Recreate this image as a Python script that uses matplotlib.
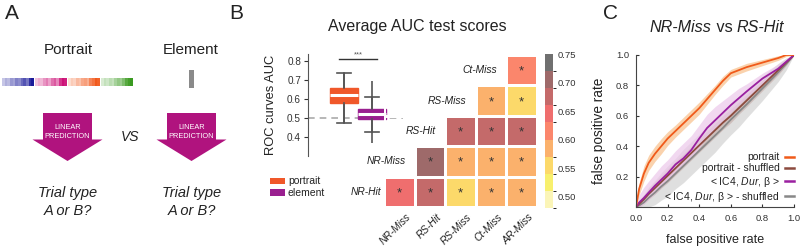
import numpy as np
import matplotlib
matplotlib.use("Agg")
import matplotlib.pyplot as plt
from matplotlib.colors import ListedColormap, BoundaryNorm, to_rgb
from matplotlib.patches import Rectangle, Polygon

plt.rcParams['font.family'] = ['Liberation Sans', 'DejaVu Sans']
plt.rcParams['mathtext.fontset'] = 'custom'
plt.rcParams['mathtext.rm'] = 'Liberation Sans'
plt.rcParams['mathtext.it'] = 'Liberation Sans:italic'

# ---------------- data ----------------
# Panel A stripe intensities (feature groups)
stripe_blue = [0.25, 0.35, 0.3, 0.45, 0.4, 0.55, 0.5, 0.65, 0.75, 0.6, 0.9, 1.0]
stripe_pink = [0.25, 0.35, 0.3, 0.45, 0.55, 0.4, 0.6, 0.7, 0.5, 0.85, 1.0, 0.95]
stripe_orange = [0.2, 0.3, 0.25, 0.4, 0.35, 0.5, 0.55, 0.45, 0.7, 0.8, 0.95, 0.9]
stripe_green = [0.2, 0.3, 0.25, 0.35, 0.3, 0.45, 0.55, 0.5, 0.65, 0.85, 0.95, 1.0]

# Panel B boxplot
box_names = ['portrait', 'element']
box_q1 = [0.58, 0.495]
box_med = [0.62, 0.518]
box_q3 = [0.656, 0.546]
box_whislo = [0.472, 0.428]
box_whishi = [0.735, 0.612]
box_min = [0.472, 0.37]
box_max = [0.735, 0.696]

# Panel B heatmap
row_labels = ['NR-Hit', 'NR-Miss', 'RS-Hit', 'RS-Miss', 'Ct-Miss']
col_labels = ['NR-Miss', 'RS-Hit', 'RS-Miss', 'Ct-Miss', 'AR-Miss']
nan = np.nan
auc_NR_Hit = [0.645, 0.675, 0.555, 0.585, 0.585]
auc_NR_Miss = [nan, 0.705, 0.585, 0.585, 0.585]
auc_RS_Hit = [nan, nan, 0.675, 0.675, 0.675]
auc_RS_Miss = [nan, nan, nan, 0.585, 0.555]
auc_Ct_Miss = [nan, nan, nan, nan, 0.615]
cbar_ticks = [0.50, 0.55, 0.60, 0.65, 0.70, 0.75]

# Panel C ROC curves
fpr = [0, 0.02, 0.05, 0.08, 0.12, 0.16, 0.2, 0.25, 0.3, 0.35, 0.4, 0.45, 0.5,
       0.55, 0.6, 0.65, 0.7, 0.8, 0.9, 0.95, 1.0]
tpr_portrait = [0, 0.12, 0.22, 0.29, 0.35, 0.40, 0.45, 0.50, 0.55, 0.60, 0.65,
                0.71, 0.77, 0.83, 0.88, 0.90, 0.92, 0.95, 0.98, 1.0, 1.0]
sd_portrait = [0, 0.04, 0.05, 0.05, 0.05, 0.05, 0.045, 0.04, 0.04, 0.04, 0.04,
               0.035, 0.03, 0.03, 0.025, 0.025, 0.025, 0.02, 0.015, 0.01, 0]
tpr_portrait_sh = [0, 0.02, 0.05, 0.085, 0.125, 0.165, 0.205, 0.255, 0.305,
                   0.355, 0.405, 0.455, 0.505, 0.555, 0.6, 0.65, 0.7, 0.8, 0.9,
                   0.95, 1.0]
sd_portrait_sh = [0, 0.02, 0.03, 0.035, 0.04, 0.04, 0.045, 0.045, 0.045, 0.045,
                  0.045, 0.045, 0.045, 0.045, 0.045, 0.04, 0.04, 0.035, 0.03,
                  0.02, 0]
tpr_element = [0, 0.03, 0.06, 0.095, 0.14, 0.18, 0.22, 0.28, 0.32, 0.375, 0.45,
               0.52, 0.57, 0.62, 0.67, 0.715, 0.76, 0.845, 0.91, 0.955, 1.0]
band_lo_element = [0, 0.0, 0.02, 0.05, 0.09, 0.13, 0.17, 0.22, 0.27, 0.32, 0.39,
                   0.46, 0.52, 0.57, 0.62, 0.67, 0.72, 0.81, 0.88, 0.94, 1.0]
band_hi_element = [0, 0.08, 0.13, 0.17, 0.22, 0.27, 0.31, 0.37, 0.42, 0.47,
                   0.54, 0.61, 0.66, 0.70, 0.74, 0.78, 0.81, 0.88, 0.94, 0.975, 1.0]
tpr_element_sh = [0, 0.01, 0.03, 0.06, 0.095, 0.135, 0.17, 0.22, 0.27, 0.32,
                  0.37, 0.42, 0.47, 0.52, 0.575, 0.625, 0.675, 0.78, 0.885,
                  0.94, 1.0]
sd_element_sh = [0, 0.03, 0.05, 0.07, 0.08, 0.09, 0.1, 0.1, 0.11, 0.11, 0.11,
                 0.11, 0.11, 0.1, 0.1, 0.1, 0.09, 0.08, 0.06, 0.04, 0]

# ---------------- figure ----------------
W, H = 800, 249
fig = plt.figure(figsize=(8, 2.49), dpi=100)
fig.patch.set_facecolor('white')


def px_axes(x0, y0, x1, y1, **kw):
    return fig.add_axes([x0 / W, 1 - y1 / H, (x1 - x0) / W, (y1 - y0) / H], **kw)


TXT = '#222222'
TICK = 6.8

# overlay for panel A & misc
ov = fig.add_axes([0, 0, 1, 1])
ov.set_xlim(0, W)
ov.set_ylim(H, 0)
ov.axis('off')

for lab, x in [('A', 12), ('B', 236), ('C', 611)]:
    ov.text(x, 13, lab, fontsize=15, ha='center', va='center', color=TXT)

# Panel A
ov.text(68, 50, 'Portrait', fontsize=11, ha='center', va='center', color=TXT)
ov.text(191, 50, 'Element', fontsize=11, ha='center', va='center', color=TXT)


def blend(c, t):
    c = np.array(to_rgb(c))
    return tuple(1 - t * (1 - c))


groups = [(2, stripe_blue, '#1a1a99'), (35, stripe_pink, '#cc1177'),
          (68, stripe_orange, '#f05010'), (101, stripe_green, '#3a9a20')]
for x0, vals, base in groups:
    sw = 32 / len(vals)
    for i, v in enumerate(vals):
        ov.add_patch(Rectangle((x0 + i * sw, 78), sw, 8, color=blend(base, v), lw=0))
ov.add_patch(Rectangle((189, 70), 5, 18, color='#8a8a8a', lw=0))

arrow_col = '#b0137e'
for cx in [67.5, 191.5]:
    poly = [(cx - 24.5, 113), (cx + 24.5, 113), (cx + 24.5, 139.5), (cx + 35, 139.5),
            (cx, 161), (cx - 35, 139.5), (cx - 24.5, 139.5)]
    ov.add_patch(Polygon(poly, closed=True, color=arrow_col, lw=0))
    ov.text(cx, 127, 'LINEAR', fontsize=5.3, color='white', ha='center', va='center')
    ov.text(cx, 136, 'PREDICTION', fontsize=5.3, color='white', ha='center', va='center')
    ov.text(cx, 193, 'Trial type', fontsize=10.5, style='italic', ha='center',
            va='center', color=TXT)
    ov.text(cx, 211, 'A or B?', fontsize=10.5, style='italic', ha='center',
            va='center', color=TXT)
ov.text(130, 137, 'VS', fontsize=10, style='italic', ha='center', va='center', color=TXT)

# Panel B title
ov.text(417, 26, 'Average AUC test scores', fontsize=11.5, ha='center', va='center', color=TXT)

# Panel B legend
box_cols = ['#f0582a', '#9a2090']
for i, (nm, c) in enumerate(zip(box_names, box_cols)):
    y = 181 + i * 11.5
    ov.add_patch(Rectangle((270, y - 3.3), 15, 6.6, color=c, lw=0))
    ov.text(288, y, nm, fontsize=7.5, ha='left', va='center', color=TXT)

# ---------------- boxplot ----------------
bx = px_axes(308, 54, 403, 156)
bx.patch.set_visible(False)
bx.set_xlim(0, 95)
bx.set_ylim(0.3, 0.835)
positions = [36, 63.5]
stats = []
for i in range(2):
    stats.append(dict(med=box_med[i], q1=box_q1[i], q3=box_q3[i],
                      whislo=box_whislo[i], whishi=box_whishi[i], fliers=[]))
bx.axhline(0.5, color='#aaaaaa', ls=(0, (4, 3)), lw=1.2, zorder=1, clip_on=False)
for i in range(2):
    bx.vlines(positions[i], box_min[i], box_max[i], color='#555555', lw=1.2, zorder=2)
bp = bx.bxp(stats, positions=positions, widths=28, patch_artist=True,
            showfliers=False, manage_ticks=False,
            whiskerprops=dict(color='#555555', lw=1.2),
            capprops=dict(color='#555555', lw=1.2),
            medianprops=dict(color='white', lw=2.2), zorder=3)
for p, c in zip(bp['boxes'], box_cols):
    p.set_facecolor(c)
    p.set_edgecolor(c)
    p.set_zorder(3)
for cap in bp['caps']:
    m = np.mean(cap.get_xdata())
    cap.set_xdata([m - 7, m + 7])
for sp in ['top', 'right', 'bottom']:
    bx.spines[sp].set_visible(False)
bx.spines['left'].set_color('#555555')
bx.set_xticks([])
bx.set_yticks([0.4, 0.5, 0.6, 0.7, 0.8])
bx.tick_params(axis='y', labelsize=7.2, colors='#333333', length=3, pad=2)
bx.set_ylabel('ROC curves AUC', fontsize=9.3, color=TXT, labelpad=7)
bx.plot([31, 69], [0.809, 0.809], color='#333333', lw=1.0, clip_on=False)
bx.text(50, 0.812, '***', fontsize=5.5, ha='center', va='bottom', color='#555555')

# ---------------- heatmap ----------------
hm = px_axes(384, 55, 537, 207)
hm.patch.set_visible(False)
mat = np.ma.masked_invalid(np.array([auc_NR_Hit, auc_NR_Miss, auc_RS_Hit,
                                     auc_RS_Miss, auc_Ct_Miss]))
bin_colors = ['#fbf5b8', '#f8f06e', '#fcd96a', '#fbb16c', '#fb866c',
              '#ef6e6e', '#c46a6a', '#9e6a6a', '#707070']
bounds = np.linspace(0.48, 0.75, 10)
cmap = ListedColormap(bin_colors)
norm = BoundaryNorm(bounds, cmap.N)
mesh = hm.pcolormesh(np.arange(6), np.arange(6), mat, cmap=cmap, norm=norm,
                     edgecolors='white', linewidth=1.0)
hm.set_xlim(0, 5)
hm.set_ylim(0, 5)
hm.axis('off')
for r in range(5):
    for c in range(5):
        if not np.ma.is_masked(mat[r, c]):
            hm.text(c + 0.5, r + 0.45, '*', fontsize=9.5, ha='center', va='center',
                    color='#333333')
    hm.text(r - (0.1 if r == 0 else 0.3), r + 0.5, row_labels[r], fontsize=7.4,
            style='italic', ha='right', va='center', color=TXT)
for c in range(5):
    hm.text(c + 0.7, -0.17, col_labels[c], fontsize=7.4, style='italic',
            rotation=45, rotation_mode='anchor', ha='right', va='top',
            color=TXT, clip_on=False)

cax = px_axes(545, 54, 553, 208)
cb = fig.colorbar(mesh, cax=cax, ticks=cbar_ticks)
cb.outline.set_visible(False)
cb.ax.set_yticklabels(['%.2f' % t for t in cbar_ticks])
cax.tick_params(length=0, labelsize=TICK, colors='#333333', pad=3)

# ---------------- ROC panel ----------------
rc = px_axes(636, 55, 794, 207)
rc.patch.set_visible(False)
fpr_a = np.array(fpr)


def band(t, s):
    t = np.array(t)
    s = np.array(s)
    return np.clip(t - s, 0, 1), np.clip(t + s, 0, 1)


lo_es, hi_es = band(tpr_element_sh, sd_element_sh)
lo_ps, hi_ps = band(tpr_portrait_sh, sd_portrait_sh)
lo_p, hi_p = band(tpr_portrait, sd_portrait)
rc.fill_between(fpr_a, lo_es, hi_es, color='#d8d8d8', alpha=0.8, lw=0)
rc.fill_between(fpr_a, lo_ps, hi_ps, color='#c4aaa5', alpha=0.6, lw=0)
rc.fill_between(fpr_a, band_lo_element, band_hi_element, color='#ecc8ea', alpha=0.7, lw=0)
rc.fill_between(fpr_a, lo_p, hi_p, color='#f8c08a', alpha=0.7, lw=0)

curves = [
    (tpr_element_sh, '#888888', '< IC4, $\\mathit{Dur}$, β > - shuffled'),
    (tpr_portrait_sh, '#8c4a3e', 'portrait - shuffled'),
    (tpr_element, '#9a20a0', '< IC4, $\\mathit{Dur}$, β >'),
    (tpr_portrait, '#f05a1a', 'portrait'),
]
handles = {}
for t, lc, lab in curves:
    h, = rc.plot(fpr_a, t, color=lc, lw=1.3, label=lab)
    handles[lab] = h
rc.set_xlim(0, 1)
rc.set_ylim(0, 1)
for sp in ['top', 'right']:
    rc.spines[sp].set_visible(False)
for sp in ['left', 'bottom']:
    rc.spines[sp].set_color('#444444')
rc.set_xticks([0, 0.2, 0.4, 0.6, 0.8, 1.0])
rc.set_yticks([0.2, 0.4, 0.6, 0.8, 1.0])
rc.tick_params(labelsize=TICK, colors='#333333', direction='in', length=2.5, pad=5)
rc.set_xlabel('false positive rate', fontsize=9, color=TXT, labelpad=8)
rc.set_ylabel('false positive rate', fontsize=9.8, color=TXT, labelpad=7)
order = ['portrait', 'portrait - shuffled', '< IC4, $\\mathit{Dur}$, β >',
         '< IC4, $\\mathit{Dur}$, β > - shuffled']
leg = rc.legend([handles[k] for k in order], order, loc='lower right',
                bbox_to_anchor=(1.0, 0.02), frameon=False, markerfirst=False,
                fontsize=7.5, handlelength=0.9, handletextpad=0.5,
                labelspacing=0.12, borderaxespad=0, borderpad=0)
for t in leg.get_texts():
    t.set_color(TXT)
for l in leg.get_lines():
    l.set_linewidth(1.8)

# Panel C title (mixed italic)
TY = 1 - 32 / H
t1 = fig.text(650 / W, TY, 'NR-Miss', fontsize=11.6, style='italic',
              va='baseline', ha='left', color=TXT)
t2 = fig.text(0, TY, ' vs ', fontsize=11.6, va='baseline', color=TXT)
t3 = fig.text(0, TY, 'RS-Hit', fontsize=11.6, style='italic', va='baseline', color=TXT)
fig.canvas.draw()
r = fig.canvas.get_renderer()
bb1 = t1.get_window_extent(r)
t2.set_position((bb1.x1 / W, TY))
fig.canvas.draw()
bb2 = t2.get_window_extent(r)
t3.set_position((bb2.x1 / W, TY))
fig.canvas.draw()
bb3 = t3.get_window_extent(r)
shift = (717 - (bb1.x0 + bb3.x1) / 2) / W
for t in (t1, t2, t3):
    x, y = t.get_position()
    t.set_position((x + shift, y))

fig.savefig('out.png', dpi=100, facecolor='white')
